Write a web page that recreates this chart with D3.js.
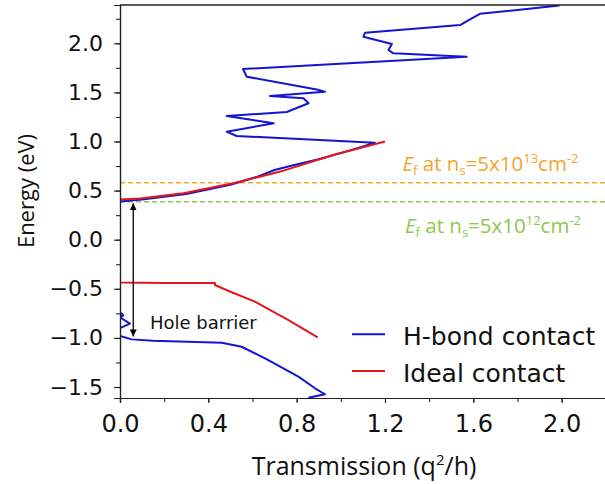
<!DOCTYPE html>
<html>
<head>
<meta charset="utf-8">
<script src="https://cdn.jsdelivr.net/npm/d3@7"></script>
<style>
  body { margin: 0; background: #fff; }
  svg { display: block; }
  .tick text { font-family: "DejaVu Sans", sans-serif; }
</style>
</head>
<body>
<div id="chart"></div>
<script>
// H-bond contact transmission (blue), traced bottom to top
var hbondT = [0.853, 0.928, 0.883, 0.808, 0.657, 0.551, 0.461, 0.15, 0.053, 0.0, 0.0, 0.045, 0.0, 0.015, 0.0, 0.0,
  0.0, 0.1, 0.3, 0.5, 0.62, 0.7, 0.78, 0.9, 1.05, 1.155,
  0.528, 0.483, 0.696, 0.483, 0.755, 0.854, 0.831, 0.679, 0.928, 0.891, 0.574, 0.557,
  1.570, 1.238, 1.216, 1.231, 1.102, 1.110, 1.540, 1.579, 1.63, 1.99];
var hbondE = [-1.61, -1.574, -1.513, -1.395, -1.208, -1.09, -1.049, -1.03, -1.015, -0.98, -0.90, -0.855, -0.79, -0.77, -0.74, -0.44,
  0.39, 0.41, 0.465, 0.56, 0.64, 0.71, 0.755, 0.82, 0.915, 0.988,
  1.056, 1.10, 1.185, 1.26, 1.30, 1.39, 1.44, 1.463, 1.507, 1.53, 1.66, 1.738,
  1.864, 1.898, 1.932, 1.993, 2.067, 2.108, 2.186, 2.237, 2.30, 2.385];

// ideal contact transmission (red)
var idealT = [0.895, 0.763, 0.611, 0.5, 0.43, 0.43, 0.2, 0.0, 0.0, 0.091, 0.287, 0.513, 0.74, 0.966, 1.2];
var idealE = [-0.994, -0.818, -0.631, -0.53, -0.461, -0.442, -0.44, -0.437, 0.41, 0.42, 0.472, 0.574, 0.703, 0.862, 1.0];

// Fermi levels
var efLevels = [0.58, 0.387];
var efColors = ['#f2a630', '#8cc84b'];
var efExp = ['13', '12'];

// hole barrier arrow
var arrowT = 0.06;
var arrowE = [0.37, -0.985];

var xTicks = [0, 0.4, 0.8, 1.2, 1.6, 2.0];
var yTicks = [-1.5, -1.0, -0.5, 0.0, 0.5, 1.0, 1.5, 2.0];

var seriesNames = ['H-bond contact', 'Ideal contact'];
var seriesColors = ['#1414d2', '#e3171c'];

var width = 605, height = 484;
var svg = d3.select('#chart').append('svg')
  .attr('width', width)
  .attr('height', height);

var x = d3.scaleLinear().domain([0, 2.2]).range([120, 605.8]);
var y = d3.scaleLinear().domain([-1.612, 2.39]).range([398, 5]);

// dashed Fermi level lines
efLevels.forEach(function (e, i) {
  svg.append('line')
    .attr('x1', x(0)).attr('x2', x(2.2))
    .attr('y1', y(e)).attr('y2', y(e))
    .attr('stroke', efColors[i])
    .attr('stroke-width', 1.6)
    .attr('stroke-dasharray', '5,3');
});

var line = d3.line()
  .x(function (d) { return x(d[0]); })
  .y(function (d) { return y(d[1]); });

svg.append('clipPath').attr('id', 'plot-clip')
  .append('rect')
  .attr('x', x(0)).attr('y', y(2.39))
  .attr('width', x(2.2) - x(0)).attr('height', y(-1.612) - y(2.39));

var plot = svg.append('g').attr('clip-path', 'url(#plot-clip)');

plot.append('path')
  .datum(d3.zip(hbondT, hbondE))
  .attr('fill', 'none')
  .attr('stroke', seriesColors[0])
  .attr('stroke-width', 2)
  .attr('stroke-linejoin', 'round')
  .attr('d', line);

plot.append('path')
  .datum(d3.zip(idealT, idealE))
  .attr('fill', 'none')
  .attr('stroke', seriesColors[1])
  .attr('stroke-width', 2)
  .attr('stroke-linejoin', 'round')
  .attr('d', line);

// double-headed arrow
var defs = svg.append('defs');
['start', 'end'].forEach(function (k) {
  defs.append('marker')
    .attr('id', 'arrow-' + k)
    .attr('viewBox', '0 0 10 10')
    .attr('refX', 10).attr('refY', 5)
    .attr('markerWidth', 7).attr('markerHeight', 9)
    .attr('markerUnits', 'userSpaceOnUse')
    .attr('orient', k === 'end' ? 'auto' : 'auto-start-reverse')
    .append('path')
    .attr('d', 'M0,0L10,5L0,10Z')
    .attr('fill', '#000');
});

svg.append('line')
  .attr('x1', x(arrowT)).attr('x2', x(arrowT))
  .attr('y1', y(arrowE[0])).attr('y2', y(arrowE[1]))
  .attr('stroke', '#000')
  .attr('stroke-width', 1.3)
  .attr('marker-start', 'url(#arrow-start)')
  .attr('marker-end', 'url(#arrow-end)');

svg.append('text')
  .attr('x', 150).attr('y', 328.5)
  .attr('font-family', 'DejaVu Sans, sans-serif')
  .attr('font-size', 18)
  .attr('fill', '#111')
  .text('Hole barrier');

// Fermi level labels
var efLabelPos = [[402.5, 170.7], [405, 232.7]];
efLevels.forEach(function (e, i) {
  var t = svg.append('text')
    .attr('x', efLabelPos[i][0]).attr('y', efLabelPos[i][1])
    .attr('font-family', 'Open Sans, sans-serif')
    .attr('font-size', 20.5)
    .attr('fill', efColors[i]);
  t.append('tspan').attr('font-style', 'italic').text('E');
  t.append('tspan').attr('font-size', 13).attr('dy', 4).text('f');
  t.append('tspan').attr('dy', -4).text(' at n');
  t.append('tspan').attr('font-size', 13).attr('dy', 4).text('s');
  t.append('tspan').attr('dy', -4).text('=5x10');
  t.append('tspan').attr('font-size', 13).attr('dy', -8).text(efExp[i]);
  t.append('tspan').attr('dy', 8).text('cm');
  t.append('tspan').attr('font-size', 13).attr('dy', -8).text('-2');
});

// axes
var yAxis = d3.axisLeft(y).tickValues(yTicks).tickSize(6).tickPadding(11)
  .tickFormat(d3.format('.1f'));
var yMinor = d3.axisLeft(y).tickValues(d3.range(-1.5, 2.3, 0.25)).tickSize(4).tickFormat('');
var xAxis = d3.axisBottom(x).tickValues(xTicks).tickSize(5).tickPadding(12)
  .tickFormat(d3.format('.1f'));
var xMinor = d3.axisBottom(x).tickValues(d3.range(0, 2.21, 0.2)).tickSize(4).tickFormat('');

function styleAxis(g, fs) {
  g.select('.domain').attr('stroke', '#222').attr('stroke-width', 1.2);
  g.selectAll('.tick line').attr('stroke', '#222').attr('stroke-width', 1.1);
  g.selectAll('.tick text').attr('font-size', fs).attr('fill', '#111');
}

svg.append('g').attr('transform', 'translate(' + x(0) + ',0)').call(yMinor).call(styleAxis, 0);
svg.append('g').attr('transform', 'translate(' + x(0) + ',0)').call(yAxis).call(styleAxis, 22);
svg.append('g').attr('transform', 'translate(0,' + y(-1.612) + ')').call(xMinor).call(styleAxis, 0);
svg.append('g').attr('transform', 'translate(0,' + y(-1.612) + ')').call(xAxis).call(styleAxis, 24);

// top spine
svg.append('line')
  .attr('x1', x(0)).attr('x2', x(2.2))
  .attr('y1', y(2.39)).attr('y2', y(2.39))
  .attr('stroke', '#222').attr('stroke-width', 1.4);

// axis titles
svg.append('text')
  .attr('transform', 'translate(34,191) rotate(-90)')
  .attr('text-anchor', 'middle')
  .attr('font-family', 'Open Sans, sans-serif')
  .attr('font-size', 22)
  .attr('fill', '#111')
  .text('Energy (eV)');

var xt = svg.append('text')
  .attr('x', 364).attr('y', 475)
  .attr('text-anchor', 'middle')
  .attr('font-family', 'Open Sans, sans-serif')
  .attr('font-size', 25)
  .attr('fill', '#111');
xt.append('tspan').text('Transmission (q');
xt.append('tspan').attr('font-size', 15).attr('dy', -10).text('2');
xt.append('tspan').attr('dy', 10).text('/h)');

// legend
var legend = svg.append('g');
seriesNames.forEach(function (name, i) {
  var ly = 334.3 + i * 36.7;
  legend.append('line')
    .attr('x1', 352).attr('x2', 385)
    .attr('y1', ly).attr('y2', ly)
    .attr('stroke', seriesColors[i])
    .attr('stroke-width', 2);
  legend.append('text')
    .attr('x', 403).attr('y', ly + 10.7)
    .attr('font-family', 'DejaVu Sans, sans-serif')
    .attr('font-size', 25)
    .attr('fill', '#111')
    .text(name);
});
</script>
</body>
</html>
